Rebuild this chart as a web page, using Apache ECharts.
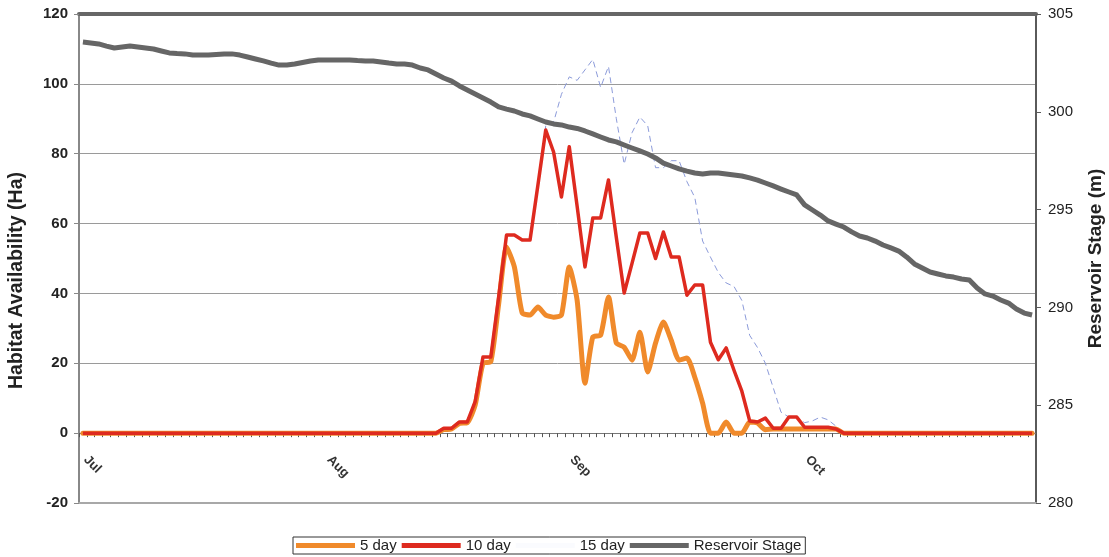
<!DOCTYPE html>
<html>
<head>
<meta charset="utf-8">
<script src="https://cdn.jsdelivr.net/npm/echarts@6/dist/echarts.min.js"></script>
<style>
  html, body { margin: 0; padding: 0; background: #ffffff; }
  #chart { width: 1109px; height: 557px; }
</style>
</head>
<body>
<div id="chart"></div>
<script>
// Season covered: 1 July – 30 October, one value per day
const months = ['Jul', 'Aug', 'Sep', 'Oct'];
const monthDays = [31, 31, 30, 30];

// Habitat availability (ha), daily
const fiveDay = [
  0,0,0,0,0,0,0,0,0,0, 0,0,0,0,0,0,0,0,0,0, 0,0,0,0,0,0,0,0,0,0,
  0,0,0,0,0,0,0,0,0,0, 0,0,0,0,0,0,
  1.0, 1.2, 2.8, 3.0, 8.0, 20.0, 20.5, 37.0, 53.3, 47.6,
  34.4, 33.8, 36.1, 33.8, 33.2, 33.8, 47.6, 38.1, 14.3, 27.5,
  28.1, 39.0, 25.8, 24.6, 20.9, 28.9, 17.5, 25.8, 31.8, 26.6,
  20.9, 21.5, 16.0, 8.6, 0, 0, 3.2, 0, 0, 3.2,
  2.9, 1.0, 1.2, 1.2, 1.2, 1.2, 1.2, 1.2, 1.2, 1.2,
  1.2, 0, 0, 0, 0, 0, 0, 0, 0, 0,
  0, 0, 0, 0, 0, 0, 0, 0, 0, 0,
  0, 0, 0, 0, 0, 0
];
const tenDay = [
  0,0,0,0,0,0,0,0,0,0, 0,0,0,0,0,0,0,0,0,0, 0,0,0,0,0,0,0,0,0,0,
  0,0,0,0,0,0,0,0,0,0, 0,0,0,0,0,0,
  1.4, 1.4, 3.2, 3.2, 9.0, 21.8, 21.8, 39.0, 56.7, 56.7,
  55.3, 55.3, 71.0, 86.8, 80.5, 67.6, 82.0, 65.0, 47.6, 61.6,
  61.6, 72.5, 56.0, 40.1, 48.6, 57.3, 57.3, 50.0, 57.6, 50.4,
  50.4, 39.5, 42.4, 42.4, 26.0, 21.0, 24.4, 18.0, 12.0, 3.5,
  3.2, 4.3, 1.4, 1.4, 4.6, 4.6, 1.7, 1.7, 1.7, 1.7,
  1.2, 0, 0, 0, 0, 0, 0, 0, 0, 0,
  0, 0, 0, 0, 0, 0, 0, 0, 0, 0,
  0, 0, 0, 0, 0, 0
];
const fifteenDay = [
  0,0,0,0,0,0,0,0,0,0, 0,0,0,0,0,0,0,0,0,0, 0,0,0,0,0,0,0,0,0,0,
  0,0,0,0,0,0,0,0,0,0, 0,0,0,0,0,0,
  1.4, 1.4, 3.2, 3.2, 9.0, 21.8, 21.8, 39.0, 56.7, 56.7,
  55.3, 55.3, 71.0, 88.0, 89.0, 97.0, 102.0, 101.0, 104.0, 107.0,
  99.0, 105.0, 90.0, 77.0, 86.0, 90.5, 88.0, 76.0, 76.0, 78.0,
  78.0, 72.0, 67.5, 55.0, 50.4, 46.0, 43.0, 42.0, 38.0, 28.0,
  24.5, 20.0, 13.0, 6.0, 4.6, 4.6, 3.0, 3.5, 4.6, 3.8,
  2.0, 0, 0, 0, 0, 0, 0, 0, 0, 0,
  0, 0, 0, 0, 0, 0, 0, 0, 0, 0,
  0, 0, 0, 0, 0, 0
];
// Reservoir stage (m), daily
const reservoirStage = [
  303.57, 303.52, 303.47, 303.36, 303.26, 303.31, 303.36, 303.31, 303.26, 303.21,
  303.11, 303.01, 302.98, 302.96, 302.90, 302.90, 302.90, 302.93, 302.96, 302.96,
  302.90, 302.80, 302.70, 302.60, 302.49, 302.39, 302.39, 302.44, 302.52, 302.60,
  302.65, 302.65, 302.65, 302.65, 302.65, 302.62, 302.60, 302.60, 302.55, 302.49,
  302.44, 302.44, 302.39, 302.24, 302.14, 301.93, 301.73, 301.57, 301.32, 301.11,
  300.91, 300.71, 300.50, 300.25, 300.14, 300.04, 299.89, 299.79, 299.63, 299.48,
  299.38, 299.33, 299.22, 299.15, 299.02, 298.87, 298.71, 298.56, 298.46, 298.30,
  298.15, 298.00, 297.84, 297.64, 297.38, 297.23, 297.08, 296.97, 296.87, 296.82,
  296.87, 296.87, 296.82, 296.77, 296.72, 296.62, 296.51, 296.36, 296.21, 296.05,
  295.90, 295.75, 295.24, 294.98, 294.72, 294.42, 294.26, 294.11, 293.86, 293.65,
  293.55, 293.39, 293.19, 293.04, 292.88, 292.58, 292.22, 292.01, 291.81, 291.71,
  291.61, 291.55, 291.45, 291.40, 290.99, 290.69, 290.58, 290.38, 290.22, 289.92,
  289.71, 289.61
];

// Axis ranges and tick steps
const habitatAxis = { min: -20, max: 120, step: 20 };
const stageAxis = { min: 280, max: 305, step: 5 };

// Daily category labels such as "Jul 1"
const categories = [];
months.forEach((m, i) => {
  for (let d = 1; d <= monthDays[i]; d++) categories.push(m + ' ' + d);
});

const font = '"Liberation Sans", Arial, sans-serif';

const chart = echarts.init(document.getElementById('chart'), null, { renderer: 'canvas' });

chart.setOption({
  animation: false,
  backgroundColor: '#ffffff',
  textStyle: { fontFamily: font },
  grid: { left: 79, right: 73, top: 14, bottom: 54, containLabel: false, outerBoundsMode: 'none' },
  legend: {
    left: 293,
    top: 537,
    padding: [1, 4, 1, 3],
    itemGap: 5,
    itemWidth: 59,
    itemHeight: 5,
    borderColor: '#333',
    borderWidth: 1,
    backgroundColor: '#ffffff',
    textStyle: { fontSize: 15, color: '#222', fontFamily: font },
    data: [
      { name: '5 day', icon: 'rect' },
      { name: '10 day', icon: 'rect' },
      { name: '15 day', icon: 'rect', itemStyle: { color: 'rgba(140,155,220,0.04)' } },
      { name: 'Reservoir Stage', icon: 'rect' }
    ]
  },
  xAxis: [
    {
      // day axis drawn along the zero line; month names sit just below it
      type: 'category',
      data: categories,
      boundaryGap: true,
      axisLine: { onZero: true, onZeroAxisIndex: 0, lineStyle: { color: '#777', width: 1 } },
      axisTick: { show: true, interval: 0, length: 4, lineStyle: { color: '#555' } },
      axisLabel: {
        interval: (i) => categories[i].endsWith(' 1'),
        formatter: (v) => v.split(' ')[0],
        rotate: -45,
        fontSize: 13,
        fontWeight: 'bold',
        color: '#333',
        padding: [0, 0, 0, 4],
        margin: -48
      },
      splitLine: { show: false }
    },
    {
      // heavy frame line along the top
      type: 'category',
      data: categories,
      position: 'top',
      boundaryGap: true,
      axisLine: { onZero: false, lineStyle: { color: '#676767', width: 4 } },
      axisTick: { show: false },
      axisLabel: { show: false },
      splitLine: { show: false }
    },
    {
      // light frame line along the bottom
      type: 'category',
      data: categories,
      position: 'bottom',
      boundaryGap: true,
      axisLine: { onZero: false, lineStyle: { color: '#a8a8a8', width: 2 } },
      axisTick: { show: false },
      axisLabel: { show: false },
      splitLine: { show: false }
    }
  ],
  yAxis: [
    {
      type: 'value',
      position: 'left',
      min: habitatAxis.min,
      max: habitatAxis.max,
      interval: habitatAxis.step,
      name: 'Habitat Availability (Ha)',
      nameLocation: 'middle',
      nameRotate: 90,
      nameGap: 52,
      nameTextStyle: {
        fontSize: 19.5, fontWeight: 'bold', color: '#222', fontFamily: font,
        padding: [0, 44, 0, 0]
      },
      axisLine: { show: true, lineStyle: { color: '#888', width: 2 } },
      axisTick: { show: true, length: 5, lineStyle: { color: '#888' } },
      axisLabel: { fontSize: 15, fontWeight: 'bold', color: '#222', margin: 11 },
      splitLine: { show: true, lineStyle: { color: '#9a9a9a', width: 1 } }
    },
    {
      type: 'value',
      position: 'right',
      min: stageAxis.min,
      max: stageAxis.max,
      interval: stageAxis.step,
      name: 'Reservoir Stage (m)',
      nameLocation: 'middle',
      nameRotate: 90,
      nameGap: 50,
      nameTextStyle: { fontSize: 19, fontWeight: 'bold', color: '#222', fontFamily: font },
      axisLine: { show: true, lineStyle: { color: '#5a5a5a', width: 2 } },
      axisTick: { show: true, length: 5, lineStyle: { color: '#5a5a5a' } },
      axisLabel: { fontSize: 15, color: '#222', margin: 12 },
      splitLine: { show: false }
    }
  ],
  series: [
    {
      name: '5 day',
      type: 'line',
      data: fiveDay,
      xAxisIndex: 0,
      yAxisIndex: 0,
      symbol: 'none',
      smooth: 0.2,
      color: '#F08A2B',
      lineStyle: { color: '#F08A2B', width: 5, join: 'round', cap: 'round' },
      z: 3
    },
    {
      name: '10 day',
      type: 'line',
      data: tenDay,
      xAxisIndex: 0,
      yAxisIndex: 0,
      symbol: 'none',
      color: '#DE2A1F',
      lineStyle: { color: '#DE2A1F', width: 3.5, join: 'round' },
      z: 4
    },
    {
      name: '15 day',
      type: 'line',
      data: fifteenDay,
      xAxisIndex: 0,
      yAxisIndex: 0,
      symbol: 'none',
      color: '#8C9BDA',
      lineStyle: { color: '#8C9BDA', width: 1, type: [6, 4] },
      z: 2
    },
    {
      name: 'Reservoir Stage',
      type: 'line',
      data: reservoirStage,
      xAxisIndex: 0,
      yAxisIndex: 1,
      symbol: 'none',
      color: '#666666',
      lineStyle: { color: '#666666', width: 5, join: 'round' },
      z: 5
    }
  ]
});
</script>
</body>
</html>
